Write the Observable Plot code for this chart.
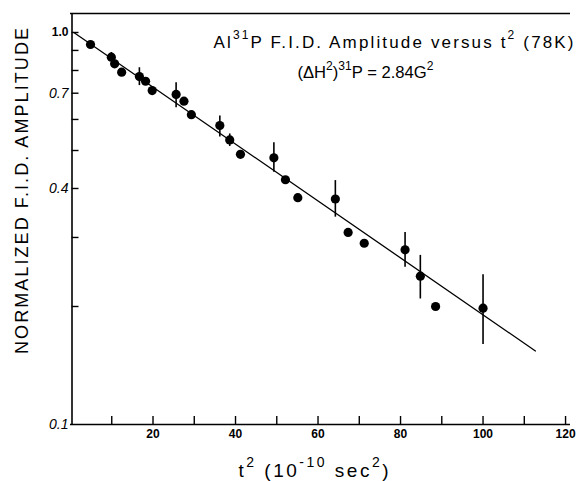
<!DOCTYPE html>
<html><head><meta charset="utf-8">
<script src="https://cdn.jsdelivr.net/npm/d3@7"></script>
<script src="https://cdn.jsdelivr.net/npm/@observablehq/plot@0.6"></script>
<style>
body{margin:0;background:#fff;}
#chart svg{display:block;}
</style></head><body><div id="chart"></div>
<script>
// Measured points: t^2 (10^-10 sec^2) and normalized F.I.D. amplitude
const t2 = [4.85, 9.9, 10.7, 12.4, 16.7, 18.2, 19.8, 25.6, 27.5, 29.3, 36.2, 38.6, 41.2, 49.3, 52.1, 55.1, 64.2, 67.3, 71.2, 81.1, 84.8, 88.5, 100.0];
const amplitude = [0.932, 0.865, 0.832, 0.792, 0.772, 0.751, 0.711, 0.695, 0.668, 0.617, 0.579, 0.532, 0.489, 0.479, 0.421, 0.379, 0.376, 0.309, 0.290, 0.279, 0.239, 0.200, 0.198];
// Error bars
const errT2 = [9.9, 16.7, 25.6, 36.2, 38.6, 49.3, 64.2, 81.1, 84.8, 100.0];
const errLow = [0.848, 0.732, 0.643, 0.541, 0.512, 0.440, 0.338, 0.252, 0.209, 0.160];
const errHigh = [0.889, 0.813, 0.744, 0.612, 0.551, 0.523, 0.419, 0.309, 0.270, 0.241];
// Fitted line
const fitT2 = [0.8, 112.7];
const fitAmp = [1.0, 0.154];
// Ticks
const xTickMarks = [10, 20, 30, 40, 50, 60, 70, 80, 90, 100, 110, 120];
const xTickLabels = [20, 40, 60, 80, 100, 120];
const yTickMarks = [0.2, 0.3, 0.4, 0.5, 0.6, 0.7, 0.8, 0.9, 1.0];
const yLabelBold = [1.0];
const yLabelItalic = [0.7, 0.4, 0.1];
const xDomain = [0, 121.2];
const yDomain = [0.1, 1.118];
// Texts
const title1 = "Al^{31}P F.I.D. Amplitude versus t^{2} (78K)";
const title2 = "(\u0394H^{2})^{31}P = 2.84G^{2}";
const xLabel = "t^{2} (10^{-10} sec^{2})";
const yLabel = "NORMALIZED F.I.D. AMPLITUDE";

const points = t2.map((t, i) => ({t2: t, amp: amplitude[i]}));
const errs = errT2.map((t, i) => ({t2: t, lo: errLow[i], hi: errHigh[i]}));
const fit = fitT2.map((t, i) => ({t2: t, amp: fitAmp[i]}));

const font = "'Liberation Sans', Arial, sans-serif";

const plot = Plot.plot({
  width: 582, height: 481,
  marginLeft: 70, marginRight: 12, marginTop: 13, marginBottom: 57,
  style: {fontFamily: font, background: "white", color: "black"},
  x: {domain: xDomain},
  y: {type: "log", domain: yDomain},
  marks: [
    Plot.ruleX([xDomain[0]], {dx: 1.5, strokeWidth: 1.6}),
    Plot.ruleY([yDomain[0]], {strokeWidth: 1.6}),
    Plot.ruleY([yDomain[1]], {strokeWidth: 1.3}),
    Plot.axisX({ticks: xTickMarks, tickSize: 8, dy: -8, strokeWidth: 1.4, tickFormat: () => "", label: null}),
    Plot.axisX({ticks: xTickLabels, tickSize: 0, tickPadding: 5, fontSize: 12, fontWeight: "bold", label: null}),
    Plot.axisY({ticks: yTickMarks, tickSize: 7, dx: 8.5, strokeWidth: 1.4, tickFormat: () => "", label: null}),
    Plot.axisY({ticks: yLabelBold, tickSize: 0, tickPadding: 2, tickFormat: d3.format(".1f"), fontSize: 12, fontWeight: "bold", label: null}),
    Plot.axisY({ticks: yLabelItalic, tickSize: 0, tickPadding: 2, tickFormat: d3.format(".1f"), fontSize: 14, fontStyle: "italic", label: null}),
    Plot.line(fit, {x: "t2", y: "amp", stroke: "black", strokeWidth: 1.3}),
    Plot.ruleX(errs, {x: "t2", y1: "lo", y2: "hi", stroke: "black", strokeWidth: 1.6}),
    Plot.dot(points, {x: "t2", y: "amp", r: 4.6, fill: "black", stroke: "none"}),
    Plot.text([title1], {frameAnchor: "top-left", dx: 143, dy: 34, textAnchor: "start", lineAnchor: "bottom", fontSize: 17}),
    Plot.text([title2], {frameAnchor: "top-left", dx: 227, dy: 64, textAnchor: "start", lineAnchor: "bottom", fontSize: 16.5}),
    Plot.text([xLabel], {frameAnchor: "bottom", dx: -7, dy: 52, textAnchor: "middle", lineAnchor: "bottom", fontSize: 19}),
    Plot.text([yLabel], {frameAnchor: "left", dx: -48, dy: -28, rotate: -90, textAnchor: "middle", lineAnchor: "middle", fontSize: 18})
  ]
});

document.getElementById("chart").appendChild(plot);

const textCfg = new Map([
  [title1, {fs: 17, len: 360, adj: "spacing"}],
  [title2, {fs: 16.5, len: 136, adj: "spacingAndGlyphs"}],
  [xLabel, {fs: 19, len: 150, adj: "spacing"}],
  [yLabel, {fs: 18, len: 326, adj: "spacing"}]
]);

d3.select(plot).selectAll("text").each(function() {
  const s = this.textContent;
  const cfg = textCfg.get(s);
  if (!cfg) return;
  const {fs, len, adj} = cfg;
  const node = d3.select(this);
  node.text(null);
  const re = /\^\{([^}]*)\}/g;
  const shift = Math.round(fs * 0.5);
  let last = 0, m, raised = false;
  while ((m = re.exec(s))) {
    if (m.index > last) {
      node.append("tspan").attr("dy", raised ? shift : null).text(s.slice(last, m.index));
      raised = false;
    }
    node.append("tspan").attr("dy", raised ? null : -shift).attr("font-size", Math.round(fs * 0.72)).text(m[1]);
    raised = true;
    last = re.lastIndex;
  }
  if (last < s.length) node.append("tspan").attr("dy", raised ? shift : null).text(s.slice(last));
  node.attr("textLength", len).attr("lengthAdjust", adj);
});
</script></body></html>
